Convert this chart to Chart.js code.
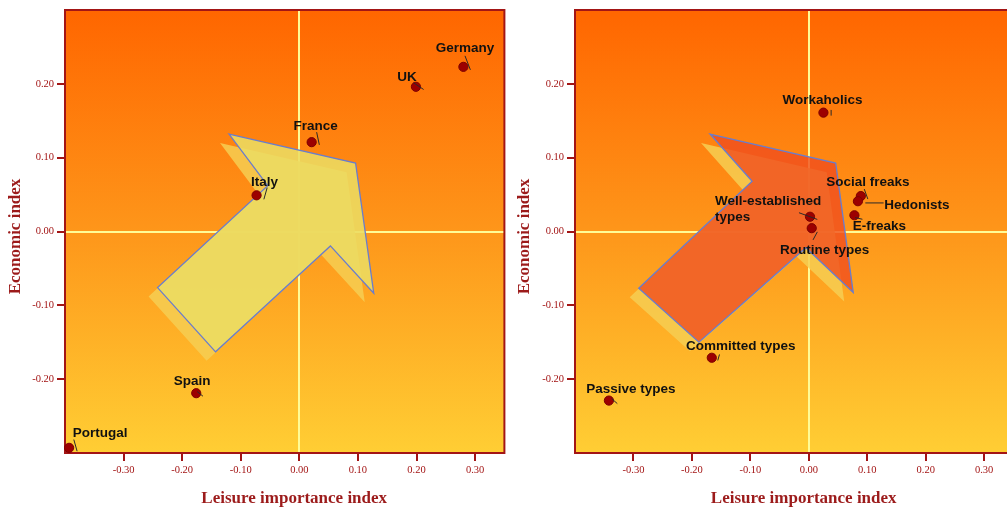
<!DOCTYPE html>
<html><head><meta charset="utf-8">
<script src="https://cdn.jsdelivr.net/npm/chart.js@4.4.1/dist/chart.umd.min.js"></script>
<style>
html,body{margin:0;padding:0;background:#fff;overflow:hidden;width:1007px;height:508px;position:relative;}
#w1{position:absolute;left:0;top:0;width:510px;height:508px;}
#w2{position:absolute;left:509px;top:0;width:510px;height:508px;}
</style></head><body>
<div id="w1"><canvas id="c1"></canvas></div>
<div id="w2"><canvas id="c2"></canvas></div>
<script>
// ---------- DATA ----------
const countries = ['Germany','UK','France','Italy','Spain','Portugal'];
const countryLeisure = [0.280, 0.199, 0.021, -0.073, -0.176, -0.393];
const countryEconomic = [0.223, 0.196, 0.121, 0.049, -0.219, -0.293];

const types = ['Workaholics','Social freaks','Hedonists','E-freaks','Well-established types','Routine types','Committed types','Passive types'];
const typeLeisure = [0.025, 0.089, 0.084, 0.078, 0.002, 0.005, -0.166, -0.342];
const typeEconomic = [0.161, 0.048, 0.041, 0.022, 0.020, 0.0045, -0.171, -0.229];

const xTickValues = [-0.3, -0.2, -0.1, 0, 0.1, 0.2, 0.3];
const yTickValues = [-0.2, -0.1, 0, 0.1, 0.2];
const xTitle = 'Leisure importance index';
const yTitle = 'Economic index';

// arrow outlines (data coordinates)
const arrowLeftX = [-0.120, 0.096, 0.127, 0.053, -0.143, -0.242, -0.054];
const arrowLeftY = [0.132, 0.0926, -0.0836, -0.0195, -0.163, -0.076, 0.062];
const arrowRightX = [-0.169, 0.046, 0.076, -0.005, -0.188, -0.291, -0.097];
const arrowRightY = [0.132, 0.0926, -0.0827, -0.022, -0.150, -0.0768, 0.068];

// ---------- STYLE / LAYOUT ----------
const DARKRED = '#a31515';
const TITLE_RED = '#9c1b1b';
const countryLabels = [
  {dx:1.5, dy:-19, lead:[1.6,-11,7,3]},
  {dx:-9, dy:-10, lead:[-2.3,-4,7.7,2.7]},
  {dx:4, dy:-16, lead:[5,-10,7.7,2.7]},
  {dx:8, dy:-13.5, lead:[10.6,-7.7,7.3,4]},
  {dx:-4, dy:-12, lead:[1,-1.6,6.7,3]},
  {dx:31, dy:-15, lead:[4.7,-8.3,8,3.4]}
];
const typeLabels = [
  {dx:-1, dy:-12, lead:[7.7,-2.7,7.7,3]},
  {dx:7, dy:-14, lead:[3.4,-7,7,3]},
  {dx:59, dy:4, lead:[7.4,1.7,25.7,1.7]},
  {dx:25, dy:11, lead:[0.7,2.3,8,4]},
  {dx:-95, dy:-15, wrap:true, lead:[-11,-4,7.3,2.7]},
  {dx:13, dy:22, lead:[5.6,3.7,1.3,11.7]},
  {dx:29, dy:-11, lead:[7.7,-3.3,6,2.7]},
  {dx:22, dy:-11, lead:[2.7,-2,8.4,3]}
];

const decorPlugin = {
  id: 'decor',
  beforeDraw(chart, args, opts) {
    const {ctx, chartArea: a} = chart;
    ctx.save();
    const g = ctx.createLinearGradient(0, a.top, 0, a.bottom);
    g.addColorStop(0, 'rgb(255,102,0)');
    g.addColorStop(0.5, 'rgb(254,150,26)');
    g.addColorStop(1, 'rgb(255,206,52)');
    ctx.fillStyle = g;
    ctx.fillRect(a.left, a.top, a.right - a.left, a.bottom - a.top);
    ctx.restore();
  },
  beforeDatasetsDraw(chart, args, opts) {
    const {ctx, chartArea: a, scales: {x, y}} = chart;
    const pts = opts.ax.map((v, i) => [x.getPixelForValue(v), y.getPixelForValue(opts.ay[i])]);
    const path = (dx, dy) => {
      ctx.beginPath();
      pts.forEach((p, i) => i ? ctx.lineTo(p[0] + dx, p[1] + dy) : ctx.moveTo(p[0] + dx, p[1] + dy));
      ctx.closePath();
    };
    ctx.save();
    ctx.beginPath(); ctx.rect(a.left, a.top, a.right - a.left, a.bottom - a.top); ctx.clip();
    path(-9, 9);
    ctx.fillStyle = opts.shadow; ctx.fill();
    path(0, 0);
    ctx.fillStyle = opts.fill; ctx.fill();
    ctx.strokeStyle = 'rgb(105,125,205)'; ctx.lineWidth = 1.3; ctx.stroke();
    ctx.restore();
    // plot frame
    ctx.save();
    ctx.strokeStyle = DARKRED; ctx.lineWidth = 2;
    ctx.strokeRect(a.left, a.top, a.right - a.left, a.bottom - a.top);
    ctx.restore();
  },
  afterDatasetsDraw(chart, args, opts) {
    const {ctx} = chart;
    const meta = chart.getDatasetMeta(0);
    ctx.save();
    ctx.font = 'bold 13.5px "Liberation Sans", Arial, sans-serif';
    ctx.fillStyle = '#111';
    ctx.textBaseline = 'middle';
    meta.data.forEach((el, i) => {
      const L = opts.layout[i];
      const px = el.x, py = el.y;
      ctx.strokeStyle = '#2a2a2a'; ctx.lineWidth = 1;
      ctx.beginPath();
      ctx.moveTo(px + L.lead[0], py + L.lead[1]);
      ctx.lineTo(px + L.lead[2], py + L.lead[3]);
      ctx.stroke();
      const name = opts.names[i];
      if (L.wrap) {
        const k = name.lastIndexOf(' ');
        ctx.textAlign = 'left';
        ctx.fillText(name.slice(0, k), px + L.dx, py + L.dy);
        ctx.fillText(name.slice(k + 1), px + L.dx, py + L.dy + 16);
      } else {
        ctx.textAlign = 'center';
        ctx.fillText(name, px + L.dx, py + L.dy);
      }
    });
    ctx.restore();
  },
  afterDraw(chart, args, opts) {
    const {ctx, chartArea: a} = chart;
    ctx.save();
    ctx.fillStyle = TITLE_RED;
    ctx.font = 'bold 17px "Liberation Serif", "Times New Roman", serif';
    ctx.textAlign = 'center'; ctx.textBaseline = 'middle';
    ctx.fillText(xTitle, (a.left + a.right) / 2 + 9.5, 499);
    ctx.translate(15.5, (a.top + a.bottom) / 2 + 5);
    ctx.rotate(-Math.PI / 2);
    ctx.fillText(yTitle, 0, 0);
    ctx.restore();
  }
};

function isZero(v) { return Math.abs(v) < 1e-9; }

function makeChart(id, names, xs, ys, ax, ay, fill, shadow, layout, yWidth) {
  return new Chart(document.getElementById(id), {
    type: 'scatter',
    data: {
      datasets: [{
        data: xs.map((v, i) => ({x: v, y: ys[i]})),
        pointRadius: 4.6,
        pointBackgroundColor: '#9c0000',
        pointBorderColor: '#7d0000',
        pointBorderWidth: 1,
        clip: false
      }]
    },
    options: {
      responsive: true,
      maintainAspectRatio: false,
      animation: false,
      layout: {padding: {top: 10, right: 1, left: 0, bottom: 0}},
      plugins: {
        legend: {display: false},
        tooltip: {enabled: false},
        decor: {ax, ay, fill, shadow, names, layout}
      },
      scales: {
        x: {
          type: 'linear', min: -0.4, max: 0.35,
          afterBuildTicks: s => { s.ticks = xTickValues.map(v => ({value: v})); },
          afterFit: s => { s.height = 55; },
          ticks: {
            callback: v => Number(v).toFixed(2),
            color: DARKRED, padding: 3, maxRotation: 0, autoSkip: false,
            font: {family: '"Liberation Serif", serif', size: 10.5}
          },
          grid: {
            color: c => (c.tick && isZero(c.tick.value)) ? 'rgb(255,252,150)' : 'rgba(0,0,0,0)',
            lineWidth: 2, drawTicks: true, tickLength: 8, tickColor: DARKRED, tickWidth: 2
          },
          border: {display: true, color: DARKRED, width: 2}
        },
        y: {
          type: 'linear', min: -0.3, max: 0.3,
          afterBuildTicks: s => { s.ticks = yTickValues.map(v => ({value: v})); },
          afterFit: s => { s.width = yWidth; },
          ticks: {
            callback: v => Number(v).toFixed(2),
            color: DARKRED, padding: 3, autoSkip: false,
            font: {family: '"Liberation Serif", serif', size: 10.5}
          },
          grid: {
            color: c => (c.tick && isZero(c.tick.value)) ? 'rgb(255,252,150)' : 'rgba(0,0,0,0)',
            lineWidth: 2, drawTicks: true, tickLength: 8, tickColor: DARKRED, tickWidth: 2
          },
          border: {display: true, color: DARKRED, width: 2}
        }
      }
    },
    plugins: [decorPlugin]
  });
}

makeChart('c1', countries, countryLeisure, countryEconomic, arrowLeftX, arrowLeftY,
  'rgba(236,220,98,0.88)', 'rgba(246,206,82,0.85)', countryLabels, 65);
makeChart('c2', types, typeLeisure, typeEconomic, arrowRightX, arrowRightY,
  'rgba(240,78,30,0.8)', 'rgba(246,206,82,0.85)', typeLabels, 66);
</script>
</body></html>
